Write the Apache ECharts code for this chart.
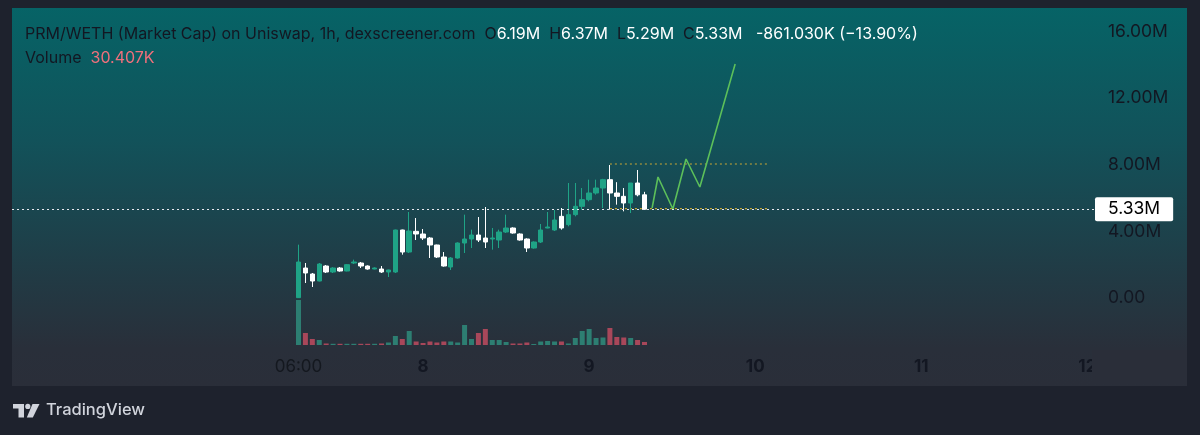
<!DOCTYPE html>
<html>
<head>
<meta charset="utf-8">
<script src="https://cdn.jsdelivr.net/npm/echarts@6/dist/echarts.min.js"></script>
<style>
html,body{margin:0;padding:0;background:#1e222d;}
#c{width:1200px;height:435px;}
</style>
</head>
<body>
<div id="c"></div>
<script>
// ---- data (prices in millions, volume in thousands) ----
const firstHour = 6; // 06:00 on day 7, hourly candles
const opens  = [0.02,1.80,1.44,1.02,1.92,1.56,1.80,1.62,2.10,2.10,1.92,1.74,1.74,1.56,1.56,4.08,2.76,4.00,3.84,3.60,3.18,2.46,1.86,2.40,3.30,3.54,3.78,3.60,3.54,3.48,3.96,4.20,3.84,3.54,3.00,3.36,4.20,4.08,4.90,4.40,5.00,5.50,5.90,6.30,6.60,7.10,6.30,6.10,5.70,6.90,6.19];
const closes = [2.16,1.50,1.02,2.04,1.56,1.80,1.62,2.00,2.16,1.92,1.74,1.80,1.56,1.68,4.08,2.76,4.02,3.84,3.60,3.18,2.46,1.92,2.40,3.30,3.54,3.78,3.48,3.36,3.60,3.96,4.20,3.90,3.48,3.00,3.36,4.08,4.26,4.68,4.20,5.00,5.50,5.90,6.30,6.60,7.10,6.30,6.10,5.70,6.90,6.19,5.33];
const lows   = [0.00,0.90,0.66,1.00,1.50,1.50,1.58,1.60,2.04,1.80,1.70,1.72,1.50,1.26,1.50,2.60,2.70,3.48,3.48,2.40,2.40,1.88,1.68,2.36,2.70,3.00,3.36,3.00,2.90,3.00,3.90,3.86,3.44,2.76,2.96,3.30,4.18,4.02,4.10,4.30,4.90,5.30,5.80,6.20,5.40,5.30,5.60,5.20,5.10,6.10,5.29];
const highs  = [3.20,2.10,1.50,2.10,1.98,1.85,1.86,2.04,2.30,2.16,1.96,1.84,1.92,1.70,4.10,4.10,5.16,4.80,4.14,3.66,3.20,2.76,2.46,3.34,5.00,4.10,4.86,5.46,4.20,4.10,5.00,4.24,3.88,3.58,3.40,4.44,5.16,5.28,5.40,6.90,6.90,6.60,7.10,7.10,7.15,7.98,6.95,6.60,6.90,7.68,6.37];
const volumes = [450,120,60,50,15,12,12,12,12,12,12,12,15,25,90,60,140,35,20,35,25,35,35,25,200,60,120,160,50,50,30,15,15,25,10,35,40,35,35,15,70,140,160,70,75,170,80,75,70,50,30.407];
// projection drawing (hours, millions)
const projX = [57.1,57.95,60.1,62.0,64.0,69.1];
const projY = [5.40,7.26,5.34,8.34,6.66,14.04];
// range box drawing
const boxX = [51.0,74.1];
const boxTop = 8.04, boxBottom = 5.36;
// tick labels
const yTicks = [0,4,8,12,16];
const xTicks = [6,24,48,72,96,120];
const xTickLabels = ['06:00','8','9','10','11','12'];
const lastClose = 5.33;

const UP = '#1fa386', DOWN = '#ffffff';
const VUP = '#2d7e72', VDOWN = '#a8475a';
const FONT = 'Inter, "Liberation Sans", Arial, sans-serif';
const DARK = '#131722';
const HF = 16;

const candleData = opens.map((o,i)=>[firstHour+i, o, closes[i], lows[i], highs[i]]);
const volData = volumes.map((v,i)=>({value:[firstHour+i, v], itemStyle:{color: closes[i]>=opens[i]?VUP:VDOWN}}));

const xMin = -35.4, xMax = 121.1;

const chart = echarts.init(document.getElementById('c'), null, {renderer:'canvas'});
chart.setOption({
  animation:false,
  backgroundColor:'#1e222d',
  textStyle:{fontFamily:FONT},
  graphic:[
    {type:'rect', z:-10, shape:{x:12,y:8,width:1175,height:378},
     style:{fill:new echarts.graphic.LinearGradient(0,0,0,1,[
       {offset:0,color:'#066366'},{offset:0.35,color:'#12525a'},{offset:0.7,color:'#213b45'},{offset:0.9,color:'#292f3a'},{offset:1,color:'#2a2e39'}])}},
    // cover for clipped tick at the price-scale edge
    {type:'rect', z:100, shape:{x:1092,y:350,width:95,height:34}, style:{fill:'#2a2e39'}},
    // TradingView logo
    {type:'rect', z:100, shape:{x:13,y:404,width:11,height:4.5}, style:{fill:'#d1d4dc'}},
    {type:'rect', z:100, shape:{x:18.5,y:404,width:5.5,height:13.5}, style:{fill:'#d1d4dc'}},
    {type:'circle', z:100, shape:{cx:27.8,cy:406.4,r:2.6}, style:{fill:'#d1d4dc'}},
    {type:'polygon', z:100, shape:{points:[[32.5,404],[39.5,404],[32.8,417.5],[26.8,417.5]]}, style:{fill:'#d1d4dc'}},
    {type:'text', z:100, left:46, top:402, style:{text:'TradingView', fill:'#d1d4dc', font:'500 16.5px '+FONT}}
  ],
  title:{
    left:25, top:22, padding:0,
    text:'{d|PRM/WETH (Market Cap) on Uniswap, 1h, dexscreener.com}  {d|O}{w|6.19M}  {d|H}{w|6.37M}  {d|L}{w|5.29M}  {d|C}{w|5.33M}   {w|-861.030K (−13.90%)}\n{d|Volume}  {r|30.407K}',
    textStyle:{
      fontWeight:'normal', fontFamily:FONT, fontSize:HF,
      rich:{
        d:{color:DARK, fontSize:HF, lineHeight:24, fontFamily:FONT, fontWeight:'normal'},
        w:{color:'#ffffff', fontSize:HF, lineHeight:24, fontFamily:FONT, fontWeight:'normal'},
        r:{color:'#f0707c', fontSize:HF, lineHeight:24, fontFamily:FONT, fontWeight:'normal'}
      }
    }
  },
  grid:[
    {left:12, right:105, top:8, bottom:90},
    {left:12, right:105, top:8, bottom:90}
  ],
  xAxis:[
    {type:'value', gridIndex:0, min:xMin, max:xMax,
     axisLine:{show:false}, axisTick:{show:false}, splitLine:{show:false},
     axisLabel:{customValues:xTicks, margin:13, fontFamily:FONT, fontSize:17, color:DARK,
       formatter:function(v){const k=xTicks.indexOf(v); const t=xTickLabels[k]; return k===0?'{n|'+t+'}':'{b|'+t+'}';},
       rich:{n:{fontSize:17,color:'#14181f',fontFamily:FONT}, b:{fontSize:17,fontWeight:'bold',color:DARK,fontFamily:FONT}}}},
    {type:'value', gridIndex:1, min:xMin, max:xMax, show:false}
  ],
  yAxis:[
    {type:'value', gridIndex:0, position:'right', min:-2.82, max:17.4,
     axisLine:{show:false}, axisTick:{show:false}, splitLine:{show:false},
     axisLabel:{customValues:yTicks, margin:13, fontFamily:FONT, fontSize:17.5, color:DARK,
       formatter:function(v){return v===0?'0.00':v.toFixed(2)+'M';}}},
    {type:'value', gridIndex:1, min:0, max:3370, show:false}
  ],
  series:[
    {type:'bar', xAxisIndex:1, yAxisIndex:1, barWidth:5, data:volData, z:1},
    {type:'candlestick', xAxisIndex:0, yAxisIndex:0, barWidth:5, data:candleData, z:3,
     itemStyle:{color:UP, color0:DOWN, borderColor:UP, borderColor0:DOWN, borderWidth:1},
     markLine:{symbol:['none','none'], silent:true, animation:false,
       lineStyle:{color:'#e6e8ee', type:[2,3], width:1.2},
       label:{position:'end', distance:0, formatter:lastClose.toFixed(2)+'M', backgroundColor:'#ffffff', color:'#000000',
         fontFamily:FONT, fontSize:17.5, padding:[3,13,3,13], borderRadius:2},
       data:[{yAxis:lastClose}]}},
    {type:'line', xAxisIndex:0, yAxisIndex:0, showSymbol:false, z:2,
     lineStyle:{color:'#c9a634', width:1.2, type:[2,3]},
     data:[[boxX[0],boxTop],[boxX[1],boxTop]]},
    {type:'line', xAxisIndex:0, yAxisIndex:0, showSymbol:false, z:2,
     lineStyle:{color:'#c9a634', width:1.2, type:[2,3]},
     data:[[boxX[0],boxBottom],[boxX[1],boxBottom]]},
    {type:'line', xAxisIndex:0, yAxisIndex:0, showSymbol:false, z:4,
     lineStyle:{color:'#5cbf5a', width:1.6},
     data:projX.map((x,i)=>[x,projY[i]])}
  ]
});
</script>
</body>
</html>
